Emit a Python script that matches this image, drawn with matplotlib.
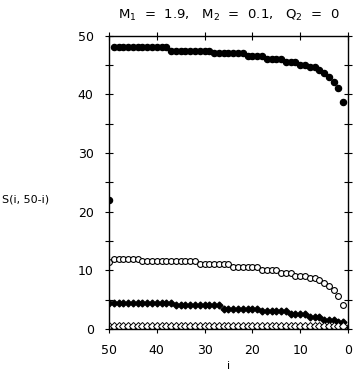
import numpy as np
import matplotlib
matplotlib.use("Agg")
import matplotlib.pyplot as plt

# i runs from 50 down to 1 (plus i=0 for the lowest series)
i_vals = np.arange(50, 0, -1)

# filled circles (top series)
s_top = [22.0] + [48.0] * 12 + [47.4] * 9 + [47.0] * 7 + [46.5] * 4 + [46.0] * 4 \
    + [45.5] * 3 + [45.0] * 2 + [44.6] * 2 + [44.1, 43.6, 43.0, 42.1, 41.1, 38.6]

# open circles
s_open = [11.4] + [12.0] * 6 + [11.5] * 12 + [11.0] * 7 + [10.55] * 6 + [10.05] * 4 \
    + [9.5] * 3 + [9.0] * 3 + [8.6] * 2 + [8.3, 7.8, 7.3, 6.6, 5.6, 4.1]

# filled diamonds
s_fd = [4.45] * 14 + [4.0] * 10 + [3.45] * 8 + [3.0] * 6 + [2.6] * 4 + [2.05] * 3 \
    + [1.55] * 3 + [1.1] * 2
s_fd_end = 0.3

# open diamonds (near zero)
s_od = [0.5] * 50

fig = plt.figure(figsize=(3.58, 3.70), dpi=100)
ax = fig.add_axes([0.3045, 0.111, 0.6675, 0.793])

ax.plot(i_vals, s_top, "o", color="black", ms=4.4, mec="black")
ax.plot(i_vals, s_open, "o", color="black", ms=4.2, mfc="white", mec="black", mew=0.8)
ax.plot(i_vals, s_fd, "D", color="black", ms=3.5)
ax.plot([0], [s_fd_end], "*", color="black", ms=5)
ax.plot(i_vals, s_od, "D", ms=4.0, mfc="white", mec="black", mew=0.7)

ax.set_xlim(50, 0)
ax.set_ylim(0, 50)
ax.set_xticks(np.arange(0, 51, 10))
ax.set_yticks(np.arange(0, 51, 10))
ax.set_yticks(np.arange(5, 50, 10), minor=True)

ax.tick_params(axis="x", which="both", direction="inout", top=True, length=6,
               labelsize=9, width=0.8, pad=8)
ax.tick_params(axis="y", which="both", direction="inout", right=True, length=6,
               labelsize=9, width=0.8, pad=8)
for s in ax.spines.values():
    s.set_linewidth(1.0)

ax.set_title("M$_1$  =  1.9,   M$_2$  =  0.1,   Q$_2$  =  0", fontsize=9.5, pad=12)
ax.set_xlabel("i", fontsize=8)
ax.xaxis.set_label_coords(0.5, -0.11)
ax.set_ylabel("S(i, 50-i)", fontsize=8, rotation=0, ha="left", va="center")
ax.yaxis.set_label_coords(-0.448, 0.44)

fig.savefig("out.png", dpi=100)
